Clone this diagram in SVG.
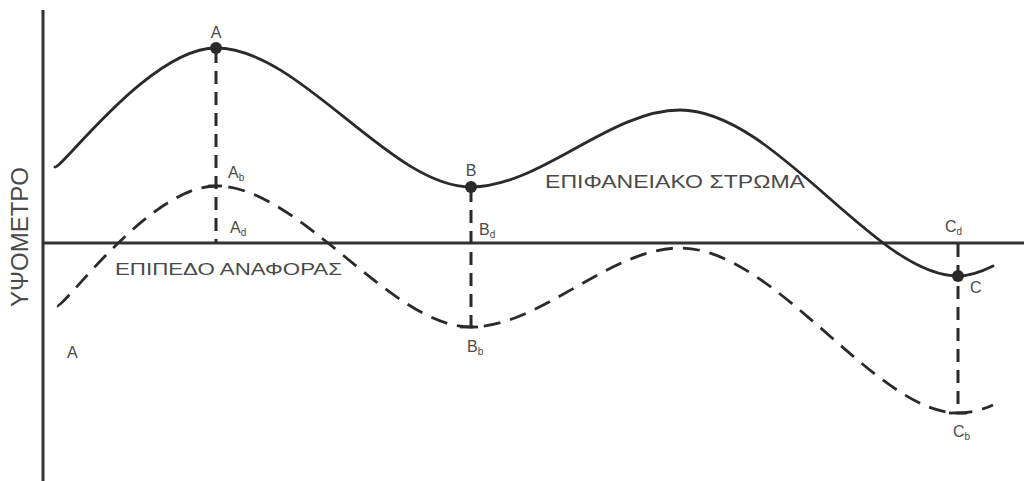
<svg xmlns="http://www.w3.org/2000/svg" width="1024" height="481" viewBox="0 0 1024 481">
<style>
.t{font-family:"Liberation Sans",Arial,sans-serif;fill:#4a4a4a}
.lbl{font-size:16px}
.sub{font-size:10px}
.ax{stroke:#333;stroke-width:3;fill:none}
.sol{stroke:#2a2a2a;stroke-width:2.8;fill:none;stroke-linecap:round}
.dsh{stroke:#2a2a2a;stroke-width:2.8;fill:none;stroke-dasharray:17 10}
.vd{stroke:#2a2a2a;stroke-width:3;fill:none;stroke-dasharray:13 8}
.tick{stroke:#2a2a2a;stroke-width:2.8}
</style>
<rect width="1024" height="481" fill="#fff"/>
<g id="axes">
<line class="ax" x1="43" y1="10" x2="43" y2="481"/>
<line class="ax" x1="43" y1="243" x2="1024" y2="243"/>
<text class="t" font-size="24" transform="translate(28,237) rotate(-90)" text-anchor="middle" textLength="140" lengthAdjust="spacingAndGlyphs">ΥΨΟΜΕΤΡΟ</text>
</g>
<g id="surface">
<path id="curve" class="sol" d="M55,167 C62,169 150,48 216,48 C300,48 390,187 471,187 C540,187 610,110 680,110 C775,110 875,276 958,276 C970,276 985,270 993,266"/>
<text class="t" x="545" y="188" font-size="18" textLength="260" lengthAdjust="spacingAndGlyphs">ΕΠΙΦΑΝΕΙΑΚΟ ΣΤΡΩΜΑ</text>
</g>
<g id="reference">
<path class="dsh" d="M57,306 C64,308 150,186 216,186 C300,186 390,327 471,327 C540,327 610,248 680,248 C775,248 875,413 958,413 C970,413 985,409 993,405"/>
<text class="t" x="115" y="275" font-size="17" textLength="227" lengthAdjust="spacingAndGlyphs">ΕΠΙΠΕΔΟ ΑΝΑΦΟΡΑΣ</text>
</g>
<g id="connectors">
<line class="vd" x1="216" y1="50" x2="216" y2="243"/>
<line class="vd" x1="471" y1="189" x2="471" y2="327"/>
<line class="vd" x1="958" y1="244" x2="958" y2="413"/>
<line class="tick" x1="208" y1="186" x2="222" y2="186"/>
<line class="tick" x1="460" y1="327" x2="478" y2="327"/>
<line class="tick" x1="949" y1="413" x2="967" y2="413"/>
</g>
<g id="point-A">
<circle cx="216" cy="48" r="6" fill="#2a2a2a"/>
<text class="t lbl" x="216" y="38" text-anchor="middle">A</text>
<text class="t lbl" x="228" y="178">A<tspan class="sub" dy="3">b</tspan></text>
<text class="t lbl" x="230" y="233">A<tspan class="sub" dy="3">d</tspan></text>
</g>
<g id="point-B">
<circle cx="471" cy="187" r="6" fill="#2a2a2a"/>
<text class="t lbl" x="471" y="176" text-anchor="middle">B</text>
<text class="t lbl" x="479" y="235">B<tspan class="sub" dy="3">d</tspan></text>
<text class="t lbl" x="467" y="352">B<tspan class="sub" dy="3">b</tspan></text>
</g>
<g id="point-C">
<circle cx="958" cy="276" r="6" fill="#2a2a2a"/>
<text class="t lbl" x="970" y="293">C</text>
<text class="t lbl" x="945" y="232">C<tspan class="sub" dy="3">d</tspan></text>
<text class="t lbl" x="953" y="437">C<tspan class="sub" dy="3">b</tspan></text>
</g>
<g id="label-A">
<text class="t lbl" x="67" y="358">A</text>
</g>
</svg>
